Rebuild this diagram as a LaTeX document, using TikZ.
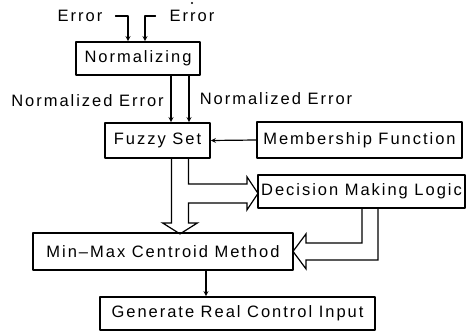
\documentclass[tikz,border=0pt]{standalone}
\usepackage{fontspec}
\setmainfont{Liberation Sans}[LetterSpace=12]
\usetikzlibrary{calc}

\begin{document}
\begin{tikzpicture}[x=1pt,y=-1pt,>=stealth,line join=round,line cap=round,
	font=\fontsize{16.5}{18}\selectfont,
	blok/.style={draw,line width=1.8pt,inner sep=0pt},
	lbl/.style={inner sep=0pt},
	lin/.style={line width=1.2pt},
	fat/.style={line width=1.2pt,line join=miter}]
	\useasboundingbox (0,0) rectangle (473,332);
	% boxes
	\node[blok,minimum width=124pt,minimum height=33pt] (norm) at (138,58.5) {Normalizing};
	\node[blok,minimum width=105pt,minimum height=35pt] (fuzzy) at (157.5,140.5) {Fuzzy Set};
	\node[blok,minimum width=205pt,minimum height=36pt] (member) at (359.5,140) {Membership Function};
	\node[blok,minimum width=207pt,minimum height=33pt] (decide) at (361.5,191.5) {Decision Making Logic};
	\node[blok,minimum width=260pt,minimum height=37pt] (minmax) at (163,251.5) {Min--Max Centroid Method};
	\node[blok,minimum width=275pt,minimum height=33pt] (gen) at (237.5,313.5) {Generate Real Control Input};
	% labels
	\node[lbl] (err1) at (80,16) {Error};
	\node[lbl] (err2) at (192,16) {Error};
	\fill ([yshift=7pt]err2.north) circle (1.2pt);
	\node[lbl] (ne1) at (87.5,101) {Normalized Error};
	\node[lbl] (ne2) at (276,99) {Normalized Error};
	% thin arrows
	\draw[lin,->] ([xshift=13pt]err1.east) -| ([xshift=-10pt]norm.north);
	\draw[lin,->] ([xshift=-14pt]err2.west) -| ([xshift=7pt]norm.north);
	\draw[lin,->] (norm.south) ++(33,0) coordinate (n1) -- (n1 |- fuzzy.north);
	\draw[lin,->] (norm.south) ++(51,0) coordinate (n2) -- (n2 |- fuzzy.north);
	\draw[lin,->] (member.west) -- (fuzzy.east);
	\draw[lin,->] (minmax.south) ++(43,0) coordinate (m1) -- (m1 |- gen.north);
	% hollow arrows
	\coordinate (sl) at ([xshift=14pt]fuzzy.south);
	\coordinate (sr) at ([xshift=31pt]fuzzy.south);
	\draw[fat] (sl) -- ++(0,64) -- ++(-9,0) -- ++(17.5,11) -- ++(17.5,-11) -- ++(-9,0)
		-- ++(0,-20) -- ++(58.5,0) -- ++(0,7) -- ++(11,-16.5) -- ++(-11,-16.5) -- ++(0,7)
		-- ++(-58.5,0) -- (sr);
	\coordinate (dl) at ([xshift=0.5pt]decide.south);
	\coordinate (dr) at ([xshift=16.5pt]decide.south);
	\draw[fat] (dl) -- ++(0,34) -- ++(-56,0) -- ++(0,-9) -- ++(-13,17.5) -- ++(13,17.5)
		-- ++(0,-9) -- ++(72,0) -- (dr);
\end{tikzpicture}
\end{document}
